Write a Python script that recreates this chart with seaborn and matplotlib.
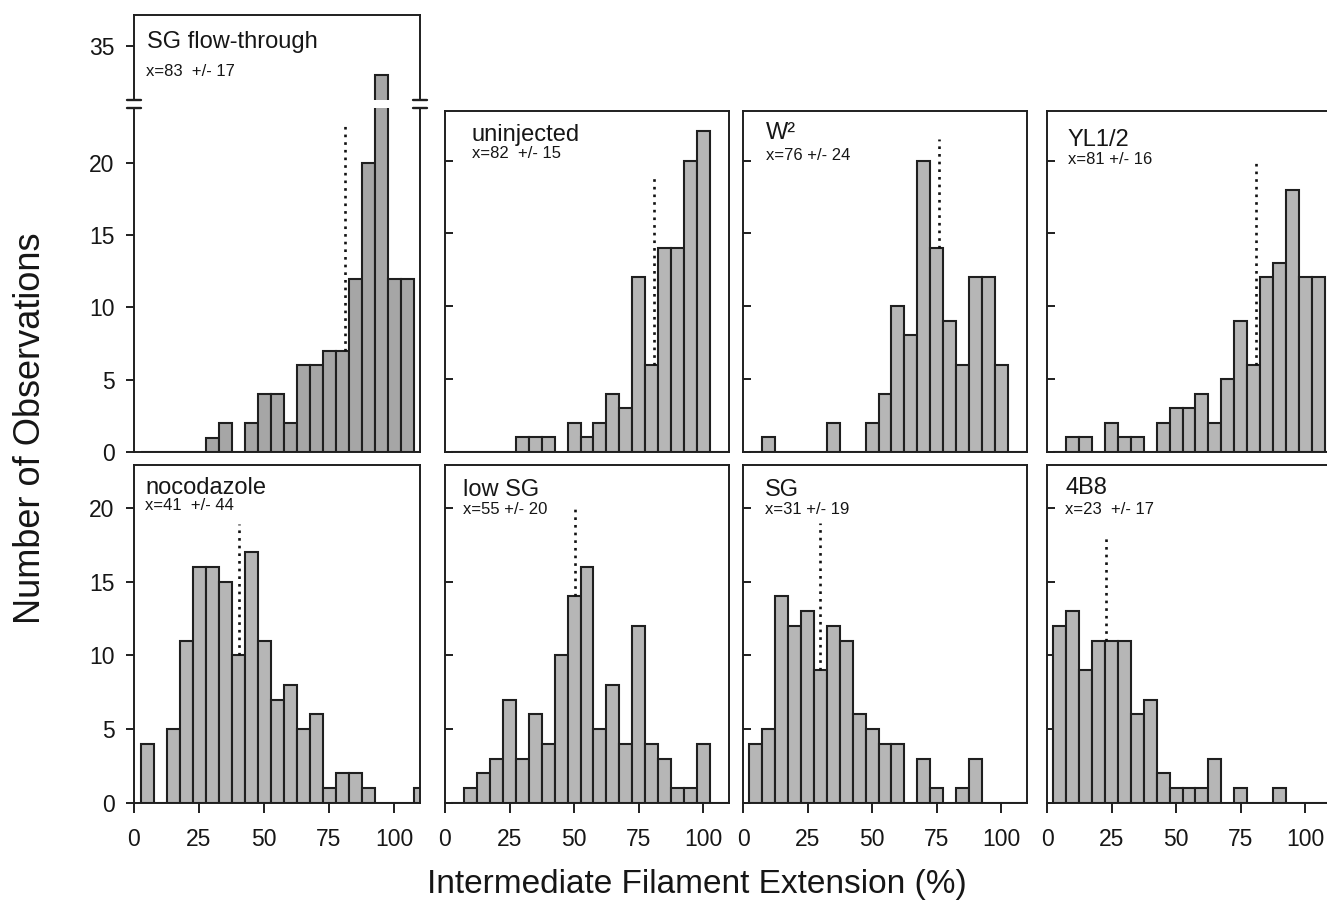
import numpy as np
import pandas as pd
import matplotlib
matplotlib.use("Agg")
import matplotlib.pyplot as plt
import seaborn as sns

# ---------------- data ----------------
bin_centers = [5, 10, 15, 20, 25, 30, 35, 40, 45, 50, 55, 60, 65, 70, 75, 80, 85, 90, 95, 100, 105, 110]
panel_names = ["SG flow-through", "uninjected", "W²", "YL1/2", "nocodazole", "low SG", "SG", "4B8"]
mean_labels = ["x=83  +/- 17", "x=82  +/- 15", "x=76 +/- 24", "x=81 +/- 16",
               "x=41  +/- 44", "x=55 +/- 20", "x=31 +/- 19", "x=23  +/- 17"]
counts_sg_flow = [0, 0, 0, 0, 0, 1, 2, 0, 2, 4, 4, 2, 6, 6, 7, 7, 12, 20, 33, 12, 12, 0]
counts_uninjected = [0, 0, 0, 0, 0, 1, 1, 1, 0, 2, 1, 2, 4, 3, 12, 6, 14, 14, 20, 22, 0, 0]
counts_w2 = [0, 1, 0, 0, 0, 0, 2, 0, 0, 2, 4, 10, 8, 20, 14, 9, 6, 12, 12, 6, 0, 0]
counts_yl12 = [0, 1, 1, 0, 2, 1, 1, 0, 2, 3, 3, 4, 2, 5, 9, 6, 12, 13, 18, 12, 12, 0]
counts_nocodazole = [4, 0, 5, 11, 16, 16, 15, 10, 17, 11, 7, 8, 5, 6, 1, 2, 2, 1, 0, 0, 0, 1]
counts_low_sg = [0, 1, 2, 3, 7, 3, 6, 4, 10, 14, 16, 5, 8, 4, 12, 4, 3, 1, 1, 4, 0, 0]
counts_sg = [4, 5, 14, 12, 13, 9, 12, 11, 6, 5, 4, 4, 0, 3, 1, 0, 1, 3, 0, 0, 0, 0]
counts_4b8 = [12, 13, 9, 11, 11, 11, 6, 7, 2, 1, 1, 1, 3, 0, 1, 0, 0, 1, 0, 0, 0, 0]
mean_x = [81, 81, 76, 81, 40.5, 50.5, 30, 23]
mean_line_top = [22.8, 19.0, 21.5, 19.9, 18.9, 20.1, 19.0, 18.2]
x_ticks = [0, 25, 50, 75, 100]
y_ticks = [0, 5, 10, 15, 20]
broken_tick = [35]

all_counts = [counts_sg_flow, counts_uninjected, counts_w2, counts_yl12,
              counts_nocodazole, counts_low_sg, counts_sg, counts_4b8]

# ---------------- style ----------------
sns.set_theme(style="ticks")
plt.rcParams["font.family"] = ["Liberation Sans", "DejaVu Sans"]

W, H = 1327, 917
fig = plt.figure(figsize=(W / 100, H / 100), dpi=100)

INK = "#1f1f1f"
TXT = "#161616"
FILL_DARK = "#a6a6a6"
FILL = "#b6b6b6"
TICK_FS = 16.5
SUB_FS = 12
bin_edges = [c - 2.5 for c in bin_centers] + [bin_centers[-1] + 2.5]


def add_ax(x0, y_top, w, y_bot):
    return fig.add_axes([x0 / W, 1 - y_bot / H, w / W, (y_bot - y_top) / H])


def style_ax(ax, ylim, left_labels, inward):
    ax.set_xlim(0, 110)
    ax.set_ylim(*ylim)
    for s in ax.spines.values():
        s.set_color(INK)
        s.set_linewidth(1.4)
    ax.set_xlabel("")
    ax.set_ylabel("")
    ax.tick_params(axis="y", direction="in" if inward else "out", length=6, width=1.4,
                   color=INK, labelsize=TICK_FS, pad=8, labelcolor=TXT,
                   labelleft=left_labels)


def draw_hist(ax, counts, fill):
    df = pd.DataFrame({"ext": np.asarray(bin_centers, dtype=float),
                       "n": np.asarray(counts, dtype=float)})
    sns.histplot(data=df, x="ext", weights="n", bins=bin_edges, ax=ax, stat="count",
                 color=fill, edgecolor=INK, linewidth=1.5, alpha=1.0, zorder=2)


def draw_mean(ax, i, counts):
    mx = mean_x[i]
    b = counts[int(np.clip(np.digitize(mx, bin_edges) - 1, 0, len(counts) - 1))]
    ax.plot([mx, mx], [b, mean_line_top[i]], color="#111111", lw=1.9,
            linestyle=(0, (1, 1.9)), zorder=3, solid_capstyle="butt")


col_x0 = [134, 445, 743, 1047]
col_w = [286, 284, 284, 284]

# ---------- top row ----------
# panel 1 broken axis
ax_up = add_ax(col_x0[0], 15, col_w[0], 100)
ax_lo = add_ax(col_x0[0], 108, col_w[0], 452)
for ax, yl in ((ax_up, (31.25, 37.15)), (ax_lo, (0, 23.8))):
    draw_hist(ax, counts_sg_flow, FILL_DARK)
    style_ax(ax, yl, True, False)
    ax.tick_params(axis="x", bottom=False, labelbottom=False)
ax_up.spines["bottom"].set_visible(False)
ax_lo.spines["top"].set_visible(False)
ax_up.set_yticks(broken_tick)
ax_lo.set_yticks(y_ticks)
draw_mean(ax_lo, 0, counts_sg_flow)
# break marks
for ax, yy in ((ax_up, 0.0), (ax_lo, 1.0)):
    for xx in (0.0, 1.0):
        ax.plot([xx - 0.026, xx + 0.026], [yy, yy], transform=ax.transAxes,
                color=INK, lw=1.7, clip_on=False, zorder=5)
ax_up.text(0.045, 0.68, panel_names[0], transform=ax_up.transAxes, fontsize=17,
           va="center", ha="left", color=TXT)
ax_up.text(0.042, 0.34, mean_labels[0], transform=ax_up.transAxes, fontsize=SUB_FS,
           va="center", ha="left", color=TXT)

text_off_top = [None, (27, 24, 43), (23, 22, 44), (21, 29, 48)]
for j in range(1, 4):
    ax = add_ax(col_x0[j], 111, col_w[j], 452)
    draw_hist(ax, all_counts[j], FILL)
    style_ax(ax, (0, 23.4), False, True)
    ax.set_yticks(y_ticks)
    ax.tick_params(axis="x", bottom=False, labelbottom=False)
    draw_mean(ax, j, all_counts[j])
    dx, ty, sy = text_off_top[j]
    h = 452 - 111
    ax.text(dx / col_w[j], 1 - ty / h, panel_names[j], transform=ax.transAxes,
            fontsize=17, va="center", ha="left", color=TXT)
    ax.text(dx / col_w[j], 1 - sy / h, mean_labels[j], transform=ax.transAxes,
            fontsize=SUB_FS, va="center", ha="left", color=TXT)

# ---------- bottom row ----------
text_off_bot = [(11, 23, 40), (18, 25, 44), (22, 25, 45), (18, 23, 44)]
for j in range(4):
    k = 4 + j
    ax = add_ax(col_x0[j], 465, col_w[j], 803)
    draw_hist(ax, all_counts[k], FILL)
    style_ax(ax, (0, 22.9), j == 0, j != 0)
    ax.set_yticks(y_ticks)
    ax.set_xticks(x_ticks)
    ax.tick_params(axis="x", direction="out", length=7, width=1.4, color=INK,
                   labelsize=TICK_FS, pad=11, labelcolor=TXT)
    draw_mean(ax, k, all_counts[k])
    dx, ty, sy = text_off_bot[j]
    h = 803 - 465
    ax.text(dx / col_w[j], 1 - ty / h, panel_names[k], transform=ax.transAxes,
            fontsize=17, va="center", ha="left", color=TXT)
    ax.text(dx / col_w[j], 1 - sy / h, mean_labels[k], transform=ax.transAxes,
            fontsize=SUB_FS, va="center", ha="left", color=TXT)

fig.text(31 / W, 1 - 428 / H, "Number of Observations", rotation=90, fontsize=26,
         ha="center", va="center", color=TXT)
fig.text(697 / W, 1 - 884 / H, "Intermediate Filament Extension (%)", fontsize=24,
         ha="center", va="center", color=TXT)

fig.savefig("out.png", dpi=100, facecolor="white")
